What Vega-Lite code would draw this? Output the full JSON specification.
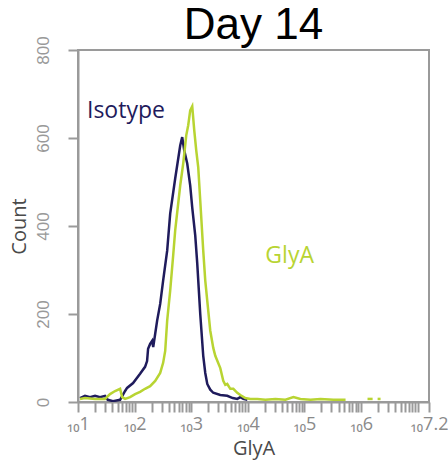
{
  "$schema": "https://vega.github.io/schema/vega-lite/v6.json",
  "width": 351,
  "height": 352,
  "autosize": {"type": "none"},
  "padding": {"left": 78, "top": 50, "right": 19, "bottom": 62},
  "title": {
    "text": "Day 14",
    "font": "Liberation Sans",
    "fontSize": 44,
    "fontWeight": "normal",
    "color": "#000000",
    "anchor": "middle",
    "frame": "group",
    "baseline": "alphabetic",
    "offset": 0,
    "dy": 47
  },
  "config": {
    "view": {"stroke": "#9a9a9a", "strokeWidth": 2},
    "axis": {
      "grid": false,
      "domainColor": "#9a9a9a",
      "domainWidth": 2,
      "tickColor": "#9a9a9a",
      "tickWidth": 2,
      "tickSize": 10,
      "labelColor": "#8a8a8a",
      "titleColor": "#4a4a4a",
      "titleFontWeight": "normal"
    }
  },
  "layer": [
    {
      "data": {
        "values": [
          {"x": 10.85, "y": 9, "series": "Isotype", "seg": "i1"},
          {"x": 13.3, "y": 14, "series": "Isotype", "seg": "i1"},
          {"x": 16.3, "y": 11, "series": "Isotype", "seg": "i1"},
          {"x": 20, "y": 14, "series": "Isotype", "seg": "i1"},
          {"x": 24.5, "y": 11, "series": "Isotype", "seg": "i1"},
          {"x": 30, "y": 14, "series": "Isotype", "seg": "i1"},
          {"x": 33.5, "y": 5, "series": "Isotype", "seg": "i1"},
          {"x": 41.6, "y": 2, "series": "Isotype", "seg": "i1"},
          {"x": 55.4, "y": 5, "series": "Isotype", "seg": "i1"},
          {"x": 67.9, "y": 25, "series": "Isotype", "seg": "i1"},
          {"x": 73.6, "y": 32, "series": "Isotype", "seg": "i1"},
          {"x": 94, "y": 43, "series": "Isotype", "seg": "i1"},
          {"x": 125, "y": 64, "series": "Isotype", "seg": "i1"},
          {"x": 153, "y": 80, "series": "Isotype", "seg": "i1"},
          {"x": 166, "y": 93, "series": "Isotype", "seg": "i1"},
          {"x": 173, "y": 121, "series": "Isotype", "seg": "i1"},
          {"x": 188, "y": 132, "series": "Isotype", "seg": "i1"},
          {"x": 204, "y": 139, "series": "Isotype", "seg": "i1"},
          {"x": 213, "y": 125, "series": "Isotype", "seg": "i1"},
          {"x": 231, "y": 155, "series": "Isotype", "seg": "i1"},
          {"x": 250, "y": 185, "series": "Isotype", "seg": "i1"},
          {"x": 283, "y": 223, "series": "Isotype", "seg": "i1"},
          {"x": 319, "y": 276, "series": "Isotype", "seg": "i1"},
          {"x": 376, "y": 344, "series": "Isotype", "seg": "i1"},
          {"x": 425, "y": 428, "series": "Isotype", "seg": "i1"},
          {"x": 521, "y": 508, "series": "Isotype", "seg": "i1"},
          {"x": 639, "y": 583, "series": "Isotype", "seg": "i1"},
          {"x": 693, "y": 602, "series": "Isotype", "seg": "i1"},
          {"x": 752, "y": 572, "series": "Isotype", "seg": "i1"},
          {"x": 850, "y": 542, "series": "Isotype", "seg": "i1"},
          {"x": 960, "y": 492, "series": "Isotype", "seg": "i1"},
          {"x": 1042, "y": 442, "series": "Isotype", "seg": "i1"},
          {"x": 1178, "y": 378, "series": "Isotype", "seg": "i1"},
          {"x": 1277, "y": 315, "series": "Isotype", "seg": "i1"},
          {"x": 1443, "y": 200, "series": "Isotype", "seg": "i1"},
          {"x": 1630, "y": 105, "series": "Isotype", "seg": "i1"},
          {"x": 1770, "y": 66, "series": "Isotype", "seg": "i1"},
          {"x": 1920, "y": 41, "series": "Isotype", "seg": "i1"},
          {"x": 2170, "y": 28, "series": "Isotype", "seg": "i1"},
          {"x": 2450, "y": 21, "series": "Isotype", "seg": "i1"},
          {"x": 3260, "y": 16, "series": "Isotype", "seg": "i1"},
          {"x": 4330, "y": 14, "series": "Isotype", "seg": "i1"},
          {"x": 5400, "y": 9, "series": "Isotype", "seg": "i1"},
          {"x": 6510, "y": 7, "series": "Isotype", "seg": "i1"},
          {"x": 7360, "y": 11, "series": "Isotype", "seg": "i1"},
          {"x": 8320, "y": 7, "series": "Isotype", "seg": "i1"},
          {"x": 9800, "y": 5, "series": "Isotype", "seg": "i1"},
          {"x": 10.85, "y": 7, "series": "GlyA", "seg": "g1"},
          {"x": 13.3, "y": 9, "series": "GlyA", "seg": "g1"},
          {"x": 20, "y": 7, "series": "GlyA", "seg": "g1"},
          {"x": 30, "y": 7, "series": "GlyA", "seg": "g1"},
          {"x": 36.8, "y": 18, "series": "GlyA", "seg": "g1"},
          {"x": 45.2, "y": 25, "series": "GlyA", "seg": "g1"},
          {"x": 55.4, "y": 30, "series": "GlyA", "seg": "g1"},
          {"x": 60.1, "y": 11, "series": "GlyA", "seg": "g1"},
          {"x": 67.9, "y": 7, "series": "GlyA", "seg": "g1"},
          {"x": 83.2, "y": 11, "series": "GlyA", "seg": "g1"},
          {"x": 102, "y": 18, "series": "GlyA", "seg": "g1"},
          {"x": 125, "y": 23, "series": "GlyA", "seg": "g1"},
          {"x": 153, "y": 30, "series": "GlyA", "seg": "g1"},
          {"x": 188, "y": 36, "series": "GlyA", "seg": "g1"},
          {"x": 231, "y": 48, "series": "GlyA", "seg": "g1"},
          {"x": 283, "y": 66, "series": "GlyA", "seg": "g1"},
          {"x": 319, "y": 89, "series": "GlyA", "seg": "g1"},
          {"x": 347, "y": 116, "series": "GlyA", "seg": "g1"},
          {"x": 376, "y": 185, "series": "GlyA", "seg": "g1"},
          {"x": 425, "y": 253, "series": "GlyA", "seg": "g1"},
          {"x": 480, "y": 333, "series": "GlyA", "seg": "g1"},
          {"x": 521, "y": 390, "series": "GlyA", "seg": "g1"},
          {"x": 639, "y": 492, "series": "GlyA", "seg": "g1"},
          {"x": 722, "y": 542, "series": "GlyA", "seg": "g1"},
          {"x": 817, "y": 606, "series": "GlyA", "seg": "g1"},
          {"x": 885, "y": 629, "series": "GlyA", "seg": "g1"},
          {"x": 960, "y": 663, "series": "GlyA", "seg": "g1"},
          {"x": 1042, "y": 672, "series": "GlyA", "seg": "g1"},
          {"x": 1130, "y": 618, "series": "GlyA", "seg": "g1"},
          {"x": 1226, "y": 572, "series": "GlyA", "seg": "g1"},
          {"x": 1330, "y": 533, "series": "GlyA", "seg": "g1"},
          {"x": 1443, "y": 458, "series": "GlyA", "seg": "g1"},
          {"x": 1630, "y": 344, "series": "GlyA", "seg": "g1"},
          {"x": 1770, "y": 276, "series": "GlyA", "seg": "g1"},
          {"x": 1920, "y": 230, "series": "GlyA", "seg": "g1"},
          {"x": 2170, "y": 162, "series": "GlyA", "seg": "g1"},
          {"x": 2450, "y": 123, "series": "GlyA", "seg": "g1"},
          {"x": 2660, "y": 105, "series": "GlyA", "seg": "g1"},
          {"x": 3260, "y": 77, "series": "GlyA", "seg": "g1"},
          {"x": 3680, "y": 48, "series": "GlyA", "seg": "g1"},
          {"x": 4000, "y": 39, "series": "GlyA", "seg": "g1"},
          {"x": 4330, "y": 41, "series": "GlyA", "seg": "g1"},
          {"x": 4900, "y": 30, "series": "GlyA", "seg": "g1"},
          {"x": 5540, "y": 30, "series": "GlyA", "seg": "g1"},
          {"x": 6510, "y": 21, "series": "GlyA", "seg": "g1"},
          {"x": 7360, "y": 16, "series": "GlyA", "seg": "g1"},
          {"x": 9030, "y": 9, "series": "GlyA", "seg": "g1"},
          {"x": 11080, "y": 7, "series": "GlyA", "seg": "g1"},
          {"x": 14720, "y": 7, "series": "GlyA", "seg": "g1"},
          {"x": 20400, "y": 5, "series": "GlyA", "seg": "g1"},
          {"x": 30700, "y": 7, "series": "GlyA", "seg": "g1"},
          {"x": 46100, "y": 5, "series": "GlyA", "seg": "g1"},
          {"x": 63900, "y": 11, "series": "GlyA", "seg": "g1"},
          {"x": 84900, "y": 7, "series": "GlyA", "seg": "g1"},
          {"x": 128000, "y": 5, "series": "GlyA", "seg": "g1"},
          {"x": 192000, "y": 7, "series": "GlyA", "seg": "g1"},
          {"x": 326000, "y": 5, "series": "GlyA", "seg": "g1"},
          {"x": 532000, "y": 5, "series": "GlyA", "seg": "g1"},
          {"x": 1300000, "y": 7, "series": "GlyA", "seg": "g2"},
          {"x": 1600000, "y": 7, "series": "GlyA", "seg": "g2"},
          {"x": 1960000, "y": 7, "series": "GlyA", "seg": "g3"},
          {"x": 2210000, "y": 7, "series": "GlyA", "seg": "g3"}
        ]
      },
      "mark": {"type": "line", "strokeWidth": 2.5, "clip": true},
      "encoding": {
        "x": {
          "field": "x",
          "type": "quantitative",
          "scale": {"type": "log", "domain": [10, 15848932], "nice": false},
          "axis": {
            "title": "GlyA",
            "titleFont": "Open Sans",
            "titleFontSize": 20,
            "titlePadding": 5,
            "labelFont": "Open Sans",
            "labelFontSize": 18,
            "labelOverlap": false,
            "labelFlush": false,
            "labelPadding": 3,
            "values": [10, 20, 30, 40, 50, 60, 70, 80, 90, 100, 200, 300, 400, 500, 600, 700, 800, 900, 1000, 2000, 3000, 4000, 5000, 6000, 7000, 8000, 9000, 10000, 20000, 30000, 40000, 50000, 60000, 70000, 80000, 90000, 100000, 200000, 300000, 400000, 500000, 600000, 700000, 800000, 900000, 1000000, 2000000, 3000000, 4000000, 5000000, 6000000, 7000000, 8000000, 9000000, 10000000, 15848932],
            "labelExpr": "datum.value == 15848932 ? '₁₀7.2' : (datum.value == 10 || datum.value == 100 || datum.value == 1000 || datum.value == 10000 || datum.value == 100000 || datum.value == 1000000) ? '₁₀' + format(log(datum.value) / LN10, '.0f') : ''"
          }
        },
        "y": {
          "field": "y",
          "type": "quantitative",
          "scale": {"domain": [0, 800], "nice": false},
          "axis": {
            "title": "Count",
            "titleFont": "Open Sans",
            "titleFontSize": 20,
            "titlePadding": 5,
            "values": [0, 200, 400, 600, 800],
            "labelAngle": 270,
            "labelFont": "Liberation Sans",
            "labelFontSize": 17,
            "labelColor": "#999999",
            "labelPadding": 16
          }
        },
        "color": {
          "field": "series",
          "type": "nominal",
          "scale": {"domain": ["Isotype", "GlyA"], "range": ["#1f1b5c", "#b8d432"]},
          "legend": null
        },
        "detail": {"field": "seg"}
      }
    },
    {
      "data": {
        "values": [
          {"label": "Isotype", "x": 14.4, "y": 645},
          {"label": "GlyA", "x": 20400, "y": 317}
        ]
      },
      "mark": {"type": "text", "align": "left", "baseline": "alphabetic", "font": "Open Sans", "fontSize": 23},
      "encoding": {
        "x": {"field": "x", "type": "quantitative"},
        "y": {"field": "y", "type": "quantitative"},
        "text": {"field": "label"},
        "color": {"field": "label", "type": "nominal", "scale": {"domain": ["Isotype", "GlyA"], "range": ["#38367a", "#b8d432"]}, "legend": null}
      }
    }
  ]
}
